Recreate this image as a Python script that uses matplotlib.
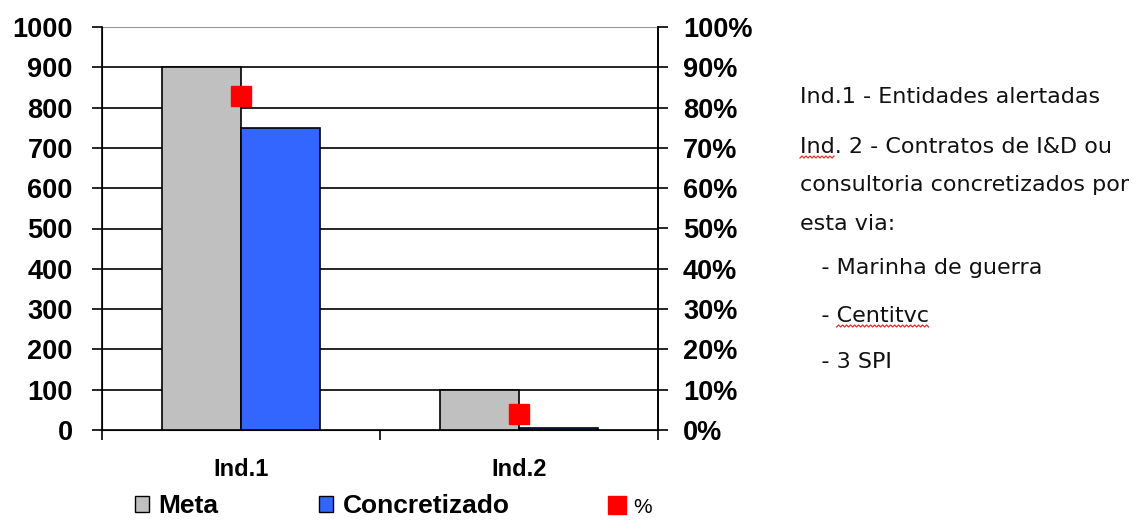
import numpy as np
import matplotlib.pyplot as plt
from matplotlib.patches import Patch
from matplotlib.lines import Line2D
from matplotlib.ticker import PercentFormatter

# Indicadores: meta, concretizado e percentagem atingida
categorias = ['Ind.1', 'Ind.2']
meta = [900, 100]
concretizado = [750, 4]
percentagem = [0.83, 0.04]

notas = ['Ind.1 - Entidades alertadas',
         'Ind. 2 - Contratos de I&D ou',
         'consultoria concretizados por',
         'esta via:',
         '   - Marinha de guerra',
         '   - Centitvc',
         '   - 3 SPI']
# palavras sublinhadas pelo corretor ortográfico: (linha, prefixo, palavra)
sublinhados = [(1, '', 'Ind'), (5, '   - ', 'Centitvc')]

cor_meta = '#C0C0C0'
cor_conc = '#3366FF'
cor_pct = '#FF0000'

plt.rcParams['font.family'] = ['Liberation Sans', 'DejaVu Sans']

fig = plt.figure(figsize=(11.45, 5.29), dpi=100)
ax = fig.add_axes([102 / 1145, 1 - 430 / 529, 556 / 1145, 403 / 529])

x = np.arange(len(categorias))
w = 0.285
ax.bar(x - w / 2, meta, w, color=cor_meta, edgecolor='black', linewidth=1.2, zorder=3)
ax.bar(x + w / 2, concretizado, w, color=cor_conc, edgecolor='black', linewidth=1.2, zorder=3)

ax.set_xlim(-0.5, 1.5)
ax.set_ylim(0, 1000)
ax.set_yticks(np.arange(0, 1001, 100))
ax.set_xticks(x)
ax.set_xticklabels(categorias, fontsize=17, fontweight='bold')
ax.set_xticks([-0.5, 0.5, 1.5], minor=True)
ax.tick_params(axis='x', which='major', length=0, pad=20)
ax.tick_params(axis='x', which='minor', length=7, width=1.2)
ax.tick_params(axis='y', length=7, width=1.2, pad=14, labelsize=19.5)
for t in ax.get_yticklabels():
    t.set_fontweight('bold')

for v in range(100, 1000, 100):
    ax.axhline(v, color='black', linewidth=1.2, zorder=1)

for s in ['left', 'bottom', 'right']:
    ax.spines[s].set_linewidth(1.2)
ax.spines['top'].set_color('#999999')

ax2 = ax.twinx()
ax2.set_ylim(0, 1)
ax2.set_yticks(np.arange(0, 1.01, 0.1))
ax2.yaxis.set_major_formatter(PercentFormatter(1.0, decimals=0))
ax2.tick_params(axis='y', length=7, width=1.2, pad=11, labelsize=19.5)
for t in ax2.get_yticklabels():
    t.set_fontweight('bold')
ax2.spines['right'].set_linewidth(1.2)
ax2.spines['top'].set_visible(False)
ax2.plot(x, percentagem, linestyle='none', marker='s', markersize=15,
         color=cor_pct, zorder=5)

handles = [Patch(facecolor=cor_meta, edgecolor='black', linewidth=1),
           Patch(facecolor=cor_conc, edgecolor='black', linewidth=1),
           Line2D([], [], linestyle='none', marker='s', markersize=13, color=cor_pct)]
leg = fig.legend(handles, ['Meta', 'Concretizado', '%'], loc='lower left',
                 bbox_to_anchor=(111 / 1145, -0.025), ncol=3, frameon=False,
                 prop={'size': 19, 'weight': 'bold'}, handlelength=0.55,
                 handleheight=0.55, handletextpad=0.35, columnspacing=3.8)
leg.get_texts()[2].set_fontweight('normal')
leg.get_texts()[2].set_fontsize(15)

fs_notas = 16
ys = [97, 147, 185, 224, 268, 316, 362]
textos = []
for txt, y in zip(notas, ys):
    textos.append(fig.text(800 / 1145, 1 - y / 529, txt, fontsize=fs_notas,
                           family='DejaVu Sans', va='center', ha='left',
                           color='#111111'))

# ondulado vermelho por baixo das palavras assinaladas
fig.canvas.draw()
r = fig.canvas.get_renderer()
for linha, prefixo, palavra in sublinhados:
    t = textos[linha]
    bb = t.get_window_extent(r)
    x0 = bb.x0
    if prefixo:
        tp = fig.text(0, 0, prefixo.replace(' ', '\u00a0'), fontsize=fs_notas,
                      family='DejaVu Sans')
        x0 += tp.get_window_extent(r).width
        tp.remove()
    tw = fig.text(0, 0, palavra, fontsize=fs_notas, family='DejaVu Sans')
    largura = tw.get_window_extent(r).width
    tw.remove()
    xs = np.arange(x0, x0 + largura + 0.1, 2.0)
    yb = bb.y0 - 1 + np.where(np.arange(len(xs)) % 2 == 0, 0, 2)
    fig.add_artist(Line2D(xs / fig.bbox.width, yb / fig.bbox.height,
                          color='#E03030', linewidth=0.9))

fig.savefig('out.png', dpi=100)
